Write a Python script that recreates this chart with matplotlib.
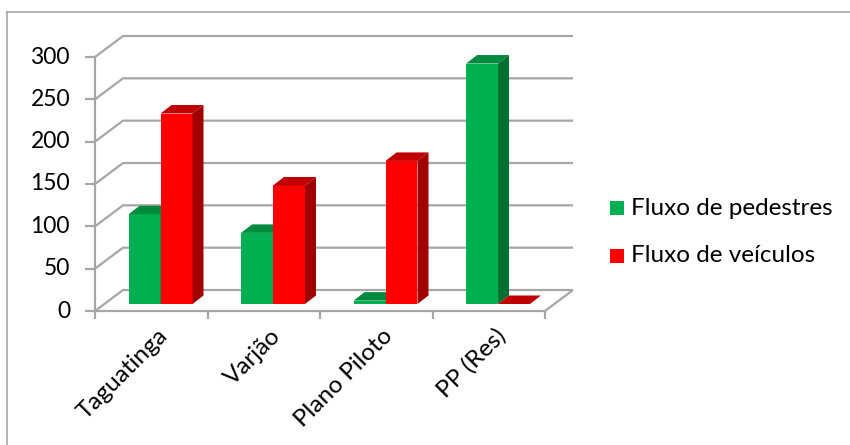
import matplotlib
matplotlib.use("Agg")
import matplotlib.pyplot as plt
from matplotlib.patches import Polygon, Rectangle
from matplotlib.lines import Line2D

plt.rcParams['font.family'] = ['Lato', 'DejaVu Sans']

# --- Data ---
categories = ["Taguatinga", "Varjão", "Plano Piloto", "PP (Res)"]
pedestres = [106, 84, 4, 284]
veiculos = [225, 140, 169, 0]
series_names = ["Fluxo de pedestres", "Fluxo de veículos"]
yticks = [0, 50, 100, 150, 200, 250, 300]

# colours: front, top, side
GREEN = ("#00B050", "#008A3E", "#007030")
RED = ("#FF0000", "#C00000", "#A00000")
GRID = "#A6A6A6"

W, H = 850, 445
fig = plt.figure(figsize=(W / 100, H / 100), dpi=100)

# front plane of the 3-D box, in pixels
x0, x1 = 95, 545
y0, y1 = 311, 57
ax = fig.add_axes([x0 / W, 1 - y0 / H, (x1 - x0) / W, (y0 - y1) / H])
ax.set_xlim(-0.5, len(categories) - 0.5)
ax.set_ylim(0, 300)
ax.axis("off")

pxx = (x1 - x0) / len(categories)   # px per category
pxy = (y0 - y1) / 300               # px per unit

# wall depth offset (back wall vs front plane)
dxw, dyw = 28 / pxx, 21 / pxy
# bars: front face sits 1/3 into the depth, bar depth
dxb, dyb = 9.3 / pxx, 7 / pxy
ddx, ddy = 11 / pxx, 8.5 / pxy

kw = dict(color=GRID, lw=1.6, clip_on=False, solid_capstyle="butt", zorder=1)
xl, xr = -0.5, len(categories) - 0.5
for v in yticks:
    ax.plot([xl, xl + dxw, xr + dxw], [v, v + dyw, v + dyw], **kw)
    ax.plot([xl - 10 / pxx, xl], [v, v], **kw)
    ax.text(xl - 25 / pxx, v, str(v), ha="right", va="center", fontsize=16.5,
            color="black")
ax.plot([xl, xl], [0, 300], **kw)
ax.plot([xl, xr, xr + dxw], [0, 0, dyw], **kw)
for i in range(len(categories) + 1):
    ax.plot([xl + i, xl + i], [0, -8 / pxy], **kw)

# bars
bw = 0.284
for i in range(len(categories)):
    for j, (vals, cols) in enumerate([(pedestres, GREEN), (veiculos, RED)]):
        v = vals[i]
        left = i - bw + j * bw + dxb
        base = dyb
        ax.bar(left, v, width=bw, bottom=base, align="edge", color=cols[0],
               edgecolor="none", zorder=3 + i * 2 + j, clip_on=False)
        top = base + v
        ax.add_patch(Polygon([(left, top), (left + bw, top),
                              (left + bw + ddx, top + ddy), (left + ddx, top + ddy)],
                             closed=True, facecolor=cols[1], edgecolor="none",
                             zorder=3 + i * 2 + j, clip_on=False))
        if v > 0:
            ax.add_patch(Polygon([(left + bw, base), (left + bw + ddx, base + ddy),
                                  (left + bw + ddx, top + ddy), (left + bw, top)],
                                 closed=True, facecolor=cols[2], edgecolor="none",
                                 zorder=3 + i * 2 + j, clip_on=False))

# category labels
for i, c in enumerate(categories):
    ax.text(i + 6 / pxx, -14 / pxy, c, rotation=45, rotation_mode="anchor",
            ha="right", va="top", fontsize=17.5, color="black")

# legend
for k, (name, col) in enumerate(zip(series_names, [GREEN[0], RED[0]])):
    yc = 208 + k * 48
    fig.patches.append(Rectangle((610 / W, 1 - (yc + 7) / H), 14 / W, 14 / H,
                                 transform=fig.transFigure, facecolor=col,
                                 edgecolor="none"))
    fig.text(631 / W, 1 - yc / H, name, ha="left", va="center", fontsize=17.5)

# chart border (left and top)
fig.add_artist(Line2D([7 / W, 7 / W], [0, 1 - 12 / H], color="#A6A6A6", lw=1.2))
fig.add_artist(Line2D([7 / W, 1], [1 - 12 / H, 1 - 12 / H], color="#A6A6A6", lw=1.2))

fig.savefig("out.png", dpi=100)
